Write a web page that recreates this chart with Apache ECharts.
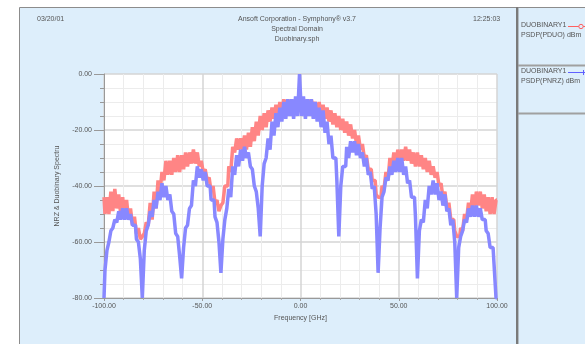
<!DOCTYPE html>
<html>
<head>
<meta charset="utf-8">
<script src="https://cdn.jsdelivr.net/npm/echarts@6/dist/echarts.min.js"></script>
<style>
  html, body { margin: 0; padding: 0; background: #ffffff; }
  #chart { width: 585px; height: 344px; }
</style>
</head>
<body>
<div id="chart"></div>
<script>
// Frequency sampling grid (GHz): one sample per GHz from -100 to 100
const freqStart = -100;
const freqEnd = 100;

// Power spectral density of the duobinary signal, dBm (PSDP(PDUO))
const duoPsd = [
  -44, -50, -44, -50, -42, -49, -41, -48, -43, -50,
  -44, -51, -45, -52, -48, -54, -51, -57, -55, -59,
  -58, -57, -53, -54, -46, -52, -42, -48, -38, -42,
  -35, -38, -31, -36, -31, -36, -30, -35, -29, -35,
  -29, -34, -28, -33, -28, -32, -27, -32, -28, -33,
  -31, -35, -34, -38, -37, -42, -40, -46, -45, -49,
  -47, -46, -40, -40, -33, -35, -26, -28, -23, -27,
  -23, -27, -22, -27, -21, -26, -19, -24, -17, -22,
  -15, -20, -14, -19, -13, -17, -12, -16, -11, -15,
  -10, -14, -9, -13, -9, -13, -9, -14, -9, -13,
  -10,
  -14, -9, -13, -9, -14, -9, -13, -10, -14, -10,
  -15, -11, -16, -12, -17, -13, -18, -14, -19, -15,
  -20, -16, -21, -17, -22, -18, -23, -20, -25, -22,
  -27, -25, -30, -29, -34, -34, -38, -38, -43, -44,
  -44, -40, -41, -35, -38, -30, -34, -28, -33, -27,
  -32, -27, -31, -26, -31, -27, -32, -28, -33, -28,
  -33, -29, -34, -30, -35, -31, -36, -33, -37, -35,
  -40, -39, -44, -42, -48, -46, -52, -52, -56, -58,
  -58, -55, -56, -50, -52, -46, -50, -43, -48, -42,
  -47, -42, -48, -43, -49, -44, -50, -44, -50, -45
];

// Power spectral density of the NRZ signal, dBm (PSDP(PNRZ))
const nrzPsd = [
  -80, -70, -63, -60, -56, -55, -52, -53, -49, -52,
  -48, -52, -48, -52, -50, -54, -54, -59, -60, -66,
  -80, -63, -56, -54, -49, -51, -45, -48, -42, -45,
  -39, -44, -40, -45, -43, -49, -50, -57, -58, -65,
  -73, -62, -55, -54, -48, -47, -38, -40, -33, -37,
  -34, -38, -35, -40, -40, -45, -45, -51, -53, -60,
  -71, -59, -52, -48, -41, -44, -33, -36, -29, -33,
  -27, -31, -26, -30, -28, -33, -34, -40, -42, -48,
  -58, -40, -32, -30, -23, -27, -17, -22, -14, -19,
  -12, -17, -10, -16, -9, -15, -9, -16, -8, -15,
  0,
  -15, -8, -16, -9, -15, -9, -16, -10, -17, -12,
  -19, -13, -21, -17, -25, -22, -30, -30, -38, -58,
  -40, -33, -33, -26, -30, -24, -28, -24, -29, -25,
  -30, -28, -33, -30, -36, -35, -41, -40, -50, -71,
  -55, -44, -42, -37, -38, -33, -36, -31, -35, -30,
  -35, -30, -36, -33, -39, -38, -44, -44, -51, -73,
  -56, -52, -53, -45, -48, -40, -43, -38, -43, -39,
  -45, -42, -47, -43, -49, -48, -54, -52, -60, -80,
  -62, -58, -56, -52, -53, -48, -51, -47, -51, -47,
  -51, -48, -52, -52, -56, -57, -62, -62, -68, -80
];

// Axis tick labels
const xTickLabels = ['-100.00', '-50.00', '0.00', '50.00', '100.00'];
const yTickLabels = ['-80.00', '-60.00', '-40.00', '-20.00', '0.00'];

function pairs(values) {
  const out = [];
  for (let i = 0; i < values.length; i++) {
    out.push([freqStart + i, values[i]]);
  }
  return out;
}

const FONT = 'Liberation Sans, Arial, sans-serif';
const TXT = '#555555';
const PANEL = '#ddeefb';
const EDGE = '#8c8c8c';

const chart = echarts.init(document.getElementById('chart'), null, { renderer: 'canvas' });

const option = {
  animation: false,
  backgroundColor: '#ffffff',
  grid: { left: 104, right: 88, top: 74, bottom: 46, containLabel: false,
          show: true, backgroundColor: '#ffffff', borderWidth: 0 },
  xAxis: {
    type: 'value',
    min: freqStart, max: freqEnd, interval: 50,
    name: 'Frequency [GHz]',
    nameLocation: 'middle', nameGap: 17,
    nameTextStyle: { fontFamily: FONT, fontSize: 7, color: TXT },
    axisLine: { show: true, onZero: false, lineStyle: { color: '#999999', width: 1 } },
    axisTick: { show: true, length: 3, lineStyle: { color: '#999999' } },
    minorTick: { show: true, splitNumber: 5, length: 2, lineStyle: { color: '#aaaaaa' } },
    axisLabel: {
      fontFamily: FONT, fontSize: 7, color: TXT, margin: 5,
      formatter: function (v) { return xTickLabels[Math.round((v - freqStart) / 50)]; }
    },
    splitLine: { show: true, lineStyle: { color: '#d4d4d4', width: 1.5 } },
    minorSplitLine: { show: true, lineStyle: { color: '#ececec', width: 1 } }
  },
  yAxis: {
    type: 'value',
    min: -80, max: 0, interval: 20,
    name: 'NRZ & Duobinary Spectru',
    nameLocation: 'middle', nameGap: 43, nameRotate: 90,
    nameTextStyle: { fontFamily: FONT, fontSize: 7, color: TXT },
    axisLine: { show: true, onZero: false, lineStyle: { color: '#999999', width: 1 } },
    axisTick: { show: true, length: 10, lineStyle: { color: '#999999' } },
    minorTick: { show: true, splitNumber: 4, length: 4, lineStyle: { color: '#999999' } },
    axisLabel: {
      fontFamily: FONT, fontSize: 7, color: TXT, margin: 12,
      formatter: function (v) { return yTickLabels[Math.round((v + 80) / 20)]; }
    },
    splitLine: { show: true, lineStyle: { color: '#d4d4d4', width: 1.5 } },
    minorSplitLine: { show: true, lineStyle: { color: '#ececec', width: 1 } }
  },
  series: [
    {
      name: 'PSDP(PDUO)',
      type: 'line',
      data: pairs(duoPsd),
      step: 'middle',
      showSymbol: false,
      clip: true,
      lineStyle: { color: '#ff8585', width: 3.5 },
      z: 2
    },
    {
      name: 'PSDP(PNRZ)',
      type: 'line',
      data: pairs(nrzPsd),
      step: 'middle',
      showSymbol: false,
      clip: true,
      lineStyle: { color: '#8888ff', width: 3.5 },
      z: 3
    }
  ],
  graphic: [
    // main report frame
    { type: 'rect', z: -10, silent: true,
      shape: { x: 19.5, y: 7.5, width: 497, height: 340 },
      style: { fill: PANEL, stroke: EDGE, lineWidth: 1 } },
    { type: 'line', z: -9, silent: true,
      shape: { x1: 517, y1: 7, x2: 517, y2: 344 },
      style: { stroke: '#7a7a7a', lineWidth: 2 } },
    // legend panel
    { type: 'rect', z: -10, silent: true,
      shape: { x: 518, y: 7.5, width: 70, height: 340 },
      style: { fill: PANEL, stroke: EDGE, lineWidth: 1 } },
    { type: 'line', z: -9, silent: true,
      shape: { x1: 518, y1: 65.5, x2: 585, y2: 65.5 },
      style: { stroke: '#a0a0a0', lineWidth: 2 } },
    { type: 'line', z: -9, silent: true,
      shape: { x1: 518, y1: 113.5, x2: 585, y2: 113.5 },
      style: { stroke: '#a0a0a0', lineWidth: 2 } },

    // header texts
    { type: 'text', left: 37, top: 16,
      style: { text: '03/20/01', fontFamily: FONT, fontSize: 7, fill: TXT } },
    { type: 'text', x: 297, y: 16,
      style: { text: 'Ansoft Corporation - Symphony\u00ae v3.7', fontFamily: FONT, fontSize: 7, fill: TXT, align: 'center' } },
    { type: 'text', x: 297, y: 26,
      style: { text: 'Spectral Domain', fontFamily: FONT, fontSize: 7, fill: TXT, align: 'center' } },
    { type: 'text', x: 297, y: 36,
      style: { text: 'Duobinary.sph', fontFamily: FONT, fontSize: 7, fill: TXT, align: 'center' } },
    { type: 'text', left: 473, top: 16,
      style: { text: '12:25:03', fontFamily: FONT, fontSize: 7, fill: TXT } },

    // legend entries
    { type: 'text', left: 521, top: 22,
      style: { text: 'DUOBINARY1', fontFamily: FONT, fontSize: 7, fill: TXT } },
    { type: 'text', left: 521, top: 32,
      style: { text: 'PSDP(PDUO) dBm', fontFamily: FONT, fontSize: 7, fill: TXT } },
    { type: 'line', silent: true,
      shape: { x1: 568, y1: 26.5, x2: 585, y2: 26.5 },
      style: { stroke: '#ff6060', lineWidth: 1 } },
    { type: 'circle', silent: true,
      shape: { cx: 581, cy: 26.5, r: 2.2 },
      style: { fill: PANEL, stroke: '#ff6060', lineWidth: 1 } },

    { type: 'text', left: 521, top: 68,
      style: { text: 'DUOBINARY1', fontFamily: FONT, fontSize: 7, fill: TXT } },
    { type: 'text', left: 521, top: 78,
      style: { text: 'PSDP(PNRZ) dBm', fontFamily: FONT, fontSize: 7, fill: TXT } },
    { type: 'line', silent: true,
      shape: { x1: 568, y1: 72.5, x2: 585, y2: 72.5 },
      style: { stroke: '#6060ff', lineWidth: 1 } },
    { type: 'line', silent: true,
      shape: { x1: 583.5, y1: 70, x2: 583.5, y2: 75 },
      style: { stroke: '#6060ff', lineWidth: 1 } }
  ]
};

chart.setOption(option);
</script>
</body>
</html>
